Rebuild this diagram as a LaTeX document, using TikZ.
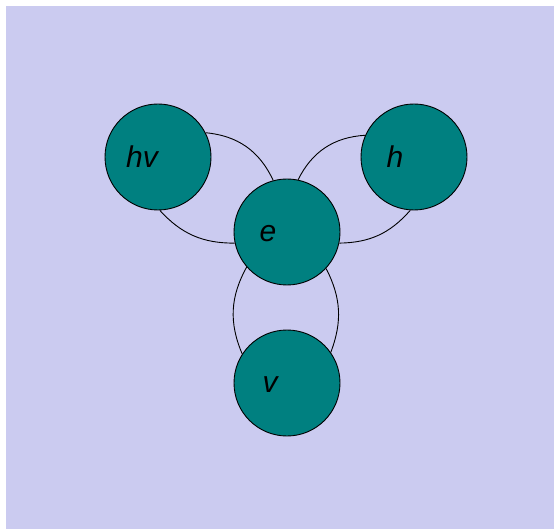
\documentclass[tikz,border=0pt]{standalone}
\usepackage{fontspec}
\setsansfont{Liberation Sans}
\usepackage{tikz}
\usetikzlibrary{positioning}
\usepackage{xcolor}
\definecolor{mylav}{RGB}{203,203,240}
\definecolor{myteal}{RGB}{0,128,128}

\begin{document}
\begin{tikzpicture}[x=1pt,y=-1pt,
    state/.style={draw, circle, fill=myteal, minimum size=106pt, inner sep=0pt, line width=0.9pt},
    lbl/.style={font=\fontsize{30}{36}\selectfont\sffamily\itshape, inner sep=0pt},
    link/.style={line width=0.9pt}]
  \useasboundingbox (0,0) rectangle (554,529);
  \fill[mylav] (6,6) rectangle (554,529);

  \node[state] (hv) at (158,157) {};
  \node[state] (h) at (414,157) {};
  \node[state] (e) at (287,232) {};
  \node[state] (v) at (287,383) {};

  % labels
  \node[lbl] (hv-t) at ([xshift=-16pt]hv.center) {hv};
  \node[lbl] (h-t) at ([xshift=-19pt]h.center) {h};
  \node[lbl] (e-t) at ([xshift=-19pt,yshift=-2pt]e.center) {e};
  \node[lbl] (v-t) at ([xshift=-17pt,yshift=-2pt]v.center) {v};

  \draw[link] (hv.27) to[bend left=30] (e.105);
  \draw[link] (hv.-88) to[bend right=24] (e.192);
  \draw[link] (e.78) to[bend left=30] (h.156);
  \draw[link] (e.-12) to[bend right=24] (h.-94);
  \draw[link] (e.221) to[bend right=26] (v.147);
  \draw[link] (e.-43) to[bend left=24] (v.35);
\end{tikzpicture}
\end{document}
